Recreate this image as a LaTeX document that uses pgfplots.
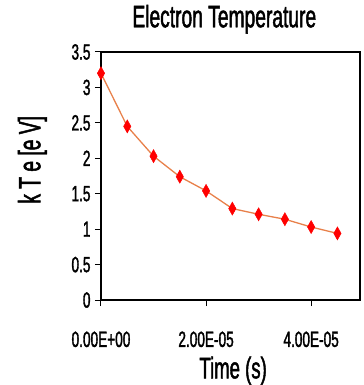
\documentclass[border=0pt]{standalone}
\usepackage{fontspec}
\setmainfont[FakeStretch=0.62,FakeBold=1.5]{Liberation Sans}
\usepackage{pgfplots}
\pgfplotsset{compat=1.18}
\definecolor{lineor}{HTML}{E8804A}
\begin{document}
\begin{tikzpicture}
\path[use as bounding box] (-101bp,-85bp) rectangle (263bp,300bp);
\begin{axis}[
  at={(0,0)}, anchor=south west,
  scale only axis, width=259bp, height=248bp,
  xmin=0, xmax=4.93e-5, ymin=0, ymax=3.5,
  xtick={0,2e-5,4e-5},
  xticklabels={0.00E+00,2.00E-05,4.00E-05},
  ytick={0,0.5,1,1.5,2,2.5,3,3.5},
  yticklabels={0,0.5,1,1.5,2,2.5,3,3.5},
  scaled x ticks=false,
  tick align=outside,
  major tick length=6bp,
  xtick pos=bottom, ytick pos=left,
  axis line style={line width=1.2bp},
  tick style={line width=1bp, black},
  tick label style={font=\fontsize{22bp}{24bp}\selectfont},
  xticklabel style={yshift=-22bp},
  yticklabel style={xshift=-1bp},
  title={Electron Temperature},
  title style={at={(axis description cs:0.476,1.108)}, anchor=center, font=\fontsize{31bp}{33bp}\selectfont},
  xlabel={Time (s)},
  xlabel style={at={(axis description cs:0.51,-0.285)}, anchor=center, font=\fontsize{30bp}{32bp}\selectfont},
  ylabel={k T e [e V]},
  ylabel style={at={(axis description cs:-0.265,0.565)}, anchor=center, font=\fontsize{31bp}{33bp}\selectfont},
]
\addplot[color=lineor, line width=1.3bp, mark=diamond*, mark size=6.5bp,
  mark options={fill=red, draw=red, xscale=0.75, line width=0.5bp}]
  coordinates {
  (0,3.2) (5e-6,2.45) (1e-5,2.03) (1.5e-5,1.74) (2e-5,1.54)
  (2.5e-5,1.29) (3e-5,1.21) (3.5e-5,1.14) (4e-5,1.03) (4.5e-5,0.94)
  };
\end{axis}
\end{tikzpicture}
\end{document}
